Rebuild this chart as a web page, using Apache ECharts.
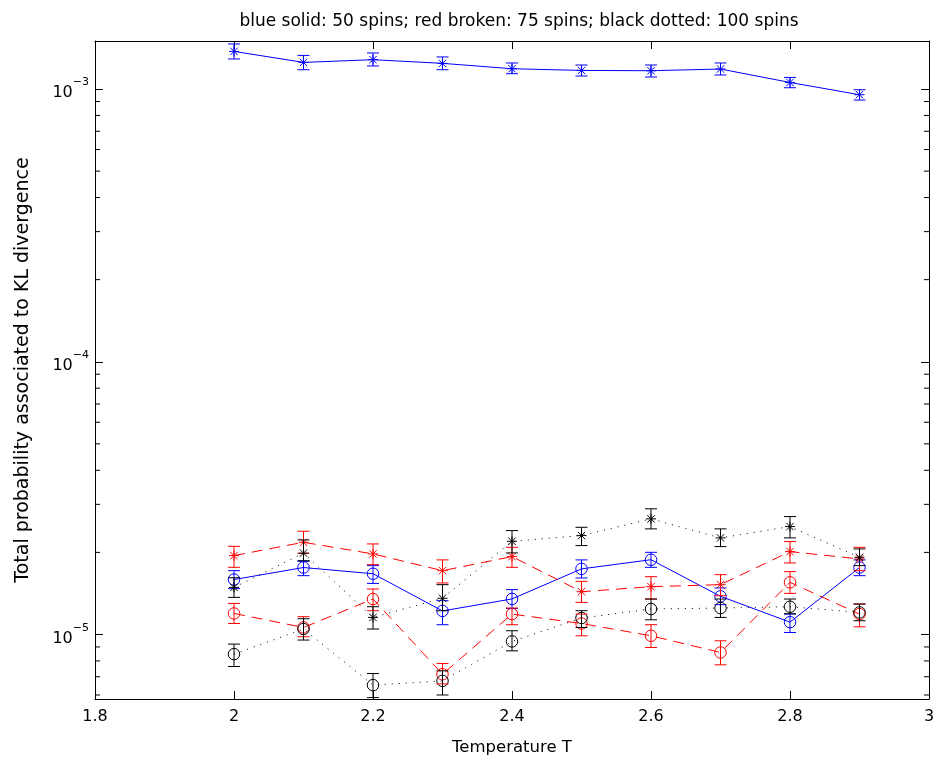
<!DOCTYPE html>
<html><head><meta charset="utf-8">
<script src="https://cdn.jsdelivr.net/npm/echarts@6/dist/echarts.min.js"></script>
<style>html,body{margin:0;padding:0;background:#fff}#c{width:938px;height:766px}</style>
</head><body><div id="c"></div>
<script>
const temperatures = [2.0, 2.1, 2.2, 2.3, 2.4, 2.5, 2.6, 2.7, 2.8, 2.9];

// 50 spins (blue, solid)
const blueStar   = [1.374e-3, 1.252e-3, 1.281e-3, 1.242e-3, 1.187e-3, 1.170e-3, 1.167e-3, 1.184e-3, 1.057e-3, 0.953e-3];
const blueStarLo = [1.289e-3, 1.177e-3, 1.215e-3, 1.177e-3, 1.138e-3, 1.116e-3, 1.107e-3, 1.126e-3, 1.011e-3, 0.911e-3];
const blueStarHi = [1.463e-3, 1.328e-3, 1.356e-3, 1.311e-3, 1.246e-3, 1.225e-3, 1.225e-3, 1.246e-3, 1.103e-3, 0.994e-3];
const blueCirc   = [1.59e-5, 1.76e-5, 1.67e-5, 1.22e-5, 1.35e-5, 1.74e-5, 1.88e-5, 1.38e-5, 1.11e-5, 1.76e-5];
const blueCircLo = [1.472e-5, 1.643e-5, 1.539e-5, 1.086e-5, 1.246e-5, 1.611e-5, 1.763e-5, 1.286e-5, 1.017e-5, 1.643e-5];
const blueCircHi = [1.714e-5, 1.854e-5, 1.788e-5, 1.330e-5, 1.460e-5, 1.877e-5, 2.001e-5, 1.481e-5, 1.188e-5, 1.877e-5];

// 75 spins (red, broken)
const redStar    = [1.946e-5, 2.178e-5, 1.974e-5, 1.714e-5, 1.930e-5, 1.435e-5, 1.497e-5, 1.523e-5, 2.013e-5, 1.892e-5];
const redStarLo  = [1.763e-5, 1.984e-5, 1.803e-5, 1.545e-5, 1.763e-5, 1.311e-5, 1.349e-5, 1.387e-5, 1.829e-5, 1.714e-5];
const redStarHi  = [2.105e-5, 2.390e-5, 2.148e-5, 1.877e-5, 2.087e-5, 1.566e-5, 1.629e-5, 1.657e-5, 2.191e-5, 2.087e-5];
const redCirc    = [1.194e-5, 1.061e-5, 1.349e-5, 0.715e-5, 1.188e-5, 1.097e-5, 0.989e-5, 0.859e-5, 1.553e-5, 1.188e-5];
const redCircLo  = [1.097e-5, 0.981e-5, 1.222e-5, 0.659e-5, 1.086e-5, 0.989e-5, 0.896e-5, 0.774e-5, 1.415e-5, 1.067e-5];
const redCircHi  = [1.300e-5, 1.162e-5, 1.468e-5, 0.783e-5, 1.250e-5, 1.188e-5, 1.086e-5, 0.948e-5, 1.700e-5, 1.293e-5];

// 100 spins (black, dotted)
const blackStar   = [1.488e-5, 1.988e-5, 1.155e-5, 1.358e-5, 2.196e-5, 2.305e-5, 2.654e-5, 2.260e-5, 2.487e-5, 1.918e-5];
const blackStarLo = [1.368e-5, 1.865e-5, 1.047e-5, 1.222e-5, 1.991e-5, 2.118e-5, 2.439e-5, 2.100e-5, 2.260e-5, 1.788e-5];
const blackStarHi = [1.615e-5, 2.222e-5, 1.264e-5, 1.523e-5, 2.404e-5, 2.472e-5, 2.889e-5, 2.439e-5, 2.706e-5, 2.059e-5];
const blackCirc   = [0.847e-5, 1.047e-5, 0.652e-5, 0.676e-5, 0.943e-5, 1.149e-5, 1.240e-5, 1.250e-5, 1.264e-5, 1.205e-5];
const blackCircLo = [0.763e-5, 0.954e-5, 0.587e-5, 0.600e-5, 0.871e-5, 1.061e-5, 1.132e-5, 1.155e-5, 1.191e-5, 1.123e-5];
const blackCircHi = [0.922e-5, 1.142e-5, 0.719e-5, 0.736e-5, 1.032e-5, 1.222e-5, 1.349e-5, 1.349e-5, 1.349e-5, 1.293e-5];

const titleText = 'blue solid: 50 spins; red broken: 75 spins; black dotted: 100 spins';
const xName = 'Temperature T';
const yName = 'Total probability associated to KL divergence';
const xMin = 1.8, xMax = 3.0, xStep = 0.2;
const yMin = 5.8e-6, yMax = 1.5e-3;

// minor tick values of the log axis (2..9 x 10^n)
const minorTicks = [];
for (let e = -6; e <= -3; e++) for (let k = 2; k <= 9; k++) {
  const v = k * Math.pow(10, e);
  if (v > yMin && v < yMax) minorTicks.push(v);
}

const FONT = 'DejaVu Sans';
const BLUE = '#0000ff', RED = '#ff0000', BLACK = '#000000';

function lineSeries(vals, color, type, circle) {
  return {
    type: 'line', data: temperatures.map((t, i) => [t, vals[i]]),
    symbol: circle ? 'circle' : 'none', symbolSize: 11.5, showSymbol: circle,
    itemStyle: { color: 'rgba(0,0,0,0)', borderColor: color, borderWidth: 1 },
    lineStyle: { color, width: 1, type },
    silent: true, z: 2, clip: true
  };
}
function errSeries(vals, lo, hi, color, star) {
  return {
    type: 'custom', clip: true, z: 3, silent: true,
    data: temperatures.map((t, i) => [t, lo[i], hi[i], vals[i]]),
    encode: { x: 0, y: [1, 2, 3] },
    renderItem(params, api) {
      const x = api.value(0);
      const pl = api.coord([x, api.value(1)]);
      const ph = api.coord([x, api.value(2)]);
      const pv = api.coord([x, api.value(3)]);
      const cap = 6;
      const style = { stroke: color, lineWidth: 1, fill: null };
      const L = (x1, y1, x2, y2) => ({ type: 'line', shape: { x1, y1, x2, y2 }, style });
      const ch = [
        L(pl[0], pl[1], ph[0], ph[1]),
        L(pl[0] - cap, pl[1], pl[0] + cap, pl[1]),
        L(ph[0] - cap, ph[1], ph[0] + cap, ph[1])
      ];
      if (star) {
        const r = 5, d = 3.7;
        ch.push(L(pv[0] - r, pv[1], pv[0] + r, pv[1]));
        ch.push(L(pv[0], pv[1] - r, pv[0], pv[1] + r));
        ch.push(L(pv[0] - d, pv[1] - d, pv[0] + d, pv[1] + d));
        ch.push(L(pv[0] - d, pv[1] + d, pv[0] + d, pv[1] - d));
      }
      return { type: 'group', children: ch };
    }
  };
}
const minorTickSeries = {
  type: 'custom', silent: true, z: 5, clip: false,
  data: minorTicks.map(v => [v]),
  encode: { y: 0 },
  renderItem(params, api) {
    const v = api.value(0);
    const a = api.coord([xMin, v]), b = api.coord([xMax, v]);
    const style = { stroke: BLACK, lineWidth: 1 };
    return { type: 'group', children: [
      { type: 'line', shape: { x1: a[0], y1: a[1], x2: a[0] + 5, y2: a[1] }, style },
      { type: 'line', shape: { x1: b[0] - 5, y1: b[1], x2: b[0], y2: b[1] }, style }
    ]};
  }
};

const axisLine = { show: true, onZero: false, lineStyle: { color: BLACK, width: 1 } };
const yLabelFmt = v => {
  const e = Math.log10(v);
  if (Math.abs(e - Math.round(e)) > 1e-6) return '';
  return '{b|10}{s|\u2212' + Math.abs(Math.round(e)) + '}';
};
const yCommon = {
  type: 'log', logBase: 10, min: yMin, max: yMax,
  axisLine, splitLine: { show: false },
  axisTick: { show: true, inside: true, length: 8, lineStyle: { color: BLACK } },
  minorTick: { show: false }
};
const xCommon = {
  type: 'value', min: xMin, max: xMax, interval: xStep,
  axisLine, splitLine: { show: false },
  axisTick: { show: true, inside: true, length: 8, lineStyle: { color: BLACK } }
};

const chart = echarts.init(document.getElementById('c'));
chart.setOption({
  animation: false,
  backgroundColor: '#fff',
  textStyle: { fontFamily: FONT },
  title: {
    text: titleText, left: 514, top: 8, textAlign: 'center',
    textStyle: { fontFamily: FONT, fontSize: 17, fontWeight: 'normal', color: BLACK }
  },
  grid: { left: 95, right: 9, top: 41, bottom: 67, containLabel: false },
  xAxis: [
    Object.assign({}, xCommon, {
      position: 'bottom',
      name: xName, nameLocation: 'middle', nameGap: 40,
      nameTextStyle: { fontFamily: FONT, fontSize: 16.5, color: BLACK },
      axisLabel: { margin: 10, fontFamily: FONT, fontSize: 16, color: BLACK,
        formatter: v => String(parseFloat(v.toFixed(1))) }
    }),
    Object.assign({}, xCommon, { position: 'top', axisLabel: { show: false } })
  ],
  yAxis: [
    Object.assign({}, yCommon, {
      position: 'left',
      name: yName, nameLocation: 'middle', nameGap: 62, nameRotate: 90,
      nameTextStyle: { fontFamily: FONT, fontSize: 19, color: BLACK },
      axisLabel: { margin: 6, color: BLACK, formatter: yLabelFmt,
        rich: {
          b: { fontFamily: FONT, fontSize: 16, color: BLACK, lineHeight: 24, verticalAlign: 'bottom' },
          s: { fontFamily: FONT, fontSize: 11, color: BLACK, lineHeight: 24, verticalAlign: 'top' }
        } }
    }),
    Object.assign({}, yCommon, { position: 'right', axisLabel: { show: false } })
  ],
  series: [
    lineSeries(blueStar, BLUE, 'solid', false),
    errSeries(blueStar, blueStarLo, blueStarHi, BLUE, true),
    lineSeries(blueCirc, BLUE, 'solid', true),
    errSeries(blueCirc, blueCircLo, blueCircHi, BLUE, false),
    lineSeries(redStar, RED, [11, 7], false),
    errSeries(redStar, redStarLo, redStarHi, RED, true),
    lineSeries(redCirc, RED, [11, 7], true),
    errSeries(redCirc, redCircLo, redCircHi, RED, false),
    lineSeries(blackStar, BLACK, [1, 6], false),
    errSeries(blackStar, blackStarLo, blackStarHi, BLACK, true),
    lineSeries(blackCirc, BLACK, [1, 6], true),
    errSeries(blackCirc, blackCircLo, blackCircHi, BLACK, false),
    minorTickSeries
  ]
});
</script></body></html>
